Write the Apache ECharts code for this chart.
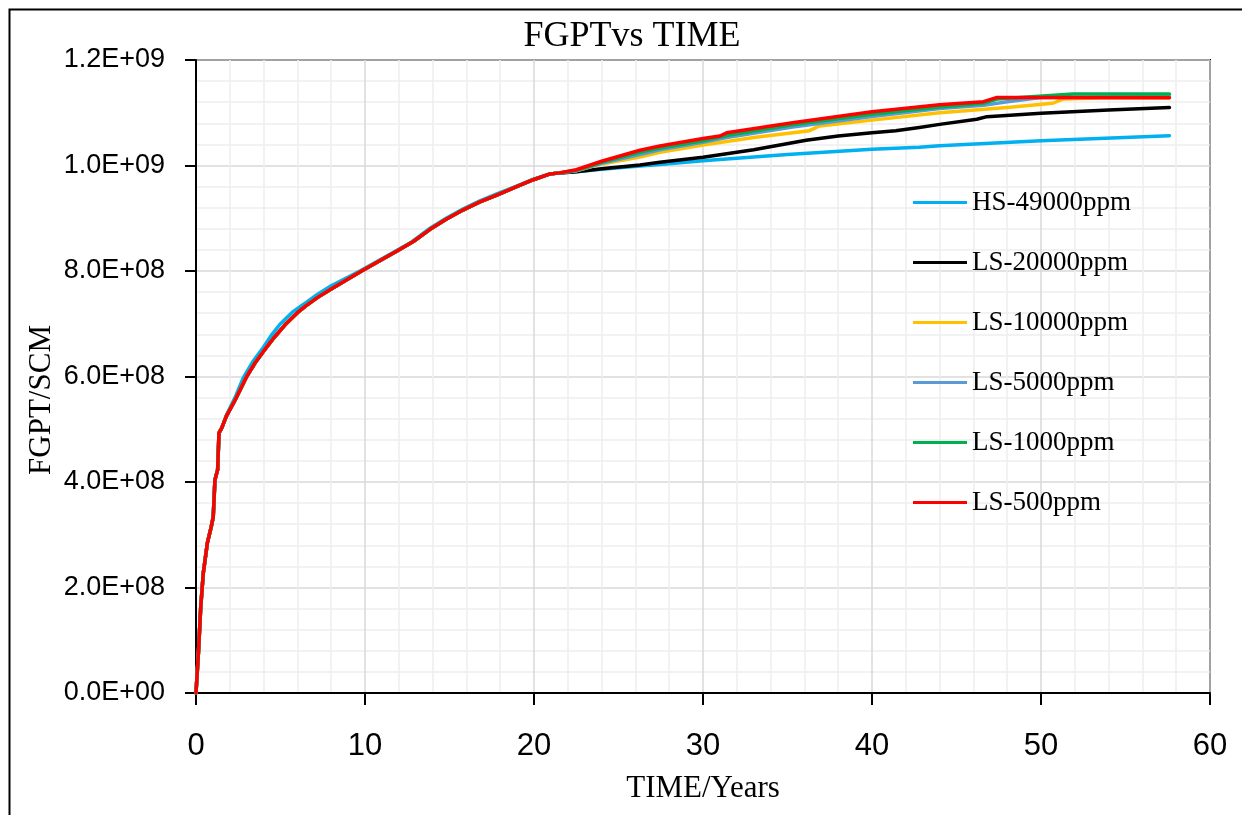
<!DOCTYPE html>
<html>
<head>
<meta charset="utf-8">
<script src="https://cdn.jsdelivr.net/npm/echarts@6/dist/echarts.min.js"></script>
<style>
  html, body { margin: 0; padding: 0; background: #fff; }
  #chart { width: 1242px; height: 815px; }
</style>
</head>
<body>
<div id="chart"></div>
<script>
// Cumulative gas production (FGPT, SCM) against time (years)

const seriesNames = ['HS-49000ppm', 'LS-20000ppm', 'LS-10000ppm', 'LS-5000ppm', 'LS-1000ppm', 'LS-500ppm'];
const seriesColors = ['#00B0F0', '#000000', '#FFC000', '#5B9BD5', '#00B050', '#FF0000'];

// Shared early history of the low-salinity cases (years / SCM)
const lsTrunkTime = [0, 0.04, 0.15, 0.28, 0.43, 0.67, 0.9, 1.02, 1.12, 1.28, 1.36, 1.52, 1.8, 2.31, 3.0, 3.5, 4.0, 4.6, 5.27, 6.0, 6.5, 7.2, 8.0, 9.0, 9.8, 10.9, 12.0, 12.86, 13.85, 14.8, 15.82, 16.8, 17.8, 18.9, 19.96, 20.95, 21.5];
const lsTrunkValue = [0, 0, 0.08e9, 0.163e9, 0.227e9, 0.284e9, 0.315e9, 0.334e9, 0.404e9, 0.423e9, 0.493e9, 0.502e9, 0.525e9, 0.555e9, 0.600e9, 0.626e9, 0.648e9, 0.673e9, 0.698e9, 0.721e9, 0.734e9, 0.750e9, 0.766e9, 0.785e9, 0.800e9, 0.820e9, 0.840e9, 0.856e9, 0.879e9, 0.898e9, 0.916e9, 0.931e9, 0.944e9, 0.959e9, 0.973e9, 0.984e9, 0.986e9];

// Early history of the high-salinity case
const hsTrunkTime = [0, 0.04, 0.15, 0.28, 0.43, 0.67, 0.9, 1.02, 1.12, 1.28, 1.36, 1.52, 1.8, 2.31, 2.8, 3.4, 4.0, 4.5, 4.97, 5.7, 6.5, 7.2, 8.0, 9.7, 11.0, 12.66, 13.85, 14.8, 15.82, 16.8, 17.8, 18.9, 19.96, 20.95, 21.5];
const hsTrunkValue = [0, 0, 0.08e9, 0.163e9, 0.227e9, 0.284e9, 0.315e9, 0.334e9, 0.404e9, 0.423e9, 0.493e9, 0.502e9, 0.527e9, 0.560e9, 0.598e9, 0.630e9, 0.656e9, 0.680e9, 0.699e9, 0.722e9, 0.740e9, 0.756e9, 0.772e9, 0.800e9, 0.823e9, 0.853e9, 0.881e9, 0.900e9, 0.918e9, 0.933e9, 0.946e9, 0.960e9, 0.974e9, 0.984e9, 0.986e9];

// Late-time behaviour of each case
const hsTime = [22.5, 24, 26.27, 27.45, 30, 35, 40, 42.8, 44, 50, 57.6];
const hsValue = [0.988e9, 0.993e9, 0.999e9, 1.002e9, 1.009e9, 1.021e9, 1.031e9, 1.0345e9, 1.0376e9, 1.047e9, 1.0566e9];

const ls20000Time = [22.5, 24, 26.27, 27.45, 30, 33, 36.1, 38, 40, 41.4, 42.8, 44, 46.2, 46.8, 50, 54, 57.6];
const ls20000Value = [0.988e9, 0.994e9, 1.001e9, 1.006e9, 1.0155e9, 1.030e9, 1.048e9, 1.056e9, 1.062e9, 1.066e9, 1.072e9, 1.078e9, 1.0876e9, 1.0926e9, 1.099e9, 1.105e9, 1.110e9];

const ls10000Time = [22.5, 24, 26.27, 27.45, 30, 33, 36.3, 36.9, 40, 44, 48, 50.7, 51.3, 53.7, 57.6];
const ls10000Value = [0.990e9, 1.003e9, 1.016e9, 1.025e9, 1.039e9, 1.053e9, 1.066e9, 1.075e9, 1.086e9, 1.100e9, 1.110e9, 1.118e9, 1.126e9, 1.1286e9, 1.1286e9];

const ls5000Time = [22.5, 24, 26.27, 27.45, 30, 31.4, 35.3, 40, 44, 46.6, 48, 50, 57.6];
const ls5000Value = [0.990e9, 1.004e9, 1.021e9, 1.030e9, 1.044e9, 1.053e9, 1.073e9, 1.093e9, 1.108e9, 1.114e9, 1.121e9, 1.129e9, 1.131e9];

const ls1000Time = [22.5, 24, 26.27, 27.45, 30, 31.4, 35.3, 40, 44, 46.6, 47.4, 51.9, 57.6];
const ls1000Value = [0.991e9, 1.006e9, 1.025e9, 1.033e9, 1.047e9, 1.057e9, 1.077e9, 1.097e9, 1.111e9, 1.118e9, 1.126e9, 1.1355e9, 1.1355e9];

const ls500Time = [22.5, 24, 26.27, 27.45, 30, 31, 31.4, 35.3, 40, 44, 46.6, 47.4, 57.6];
const ls500Value = [0.992e9, 1.008e9, 1.029e9, 1.037e9, 1.051e9, 1.056e9, 1.062e9, 1.081e9, 1.102e9, 1.115e9, 1.121e9, 1.129e9, 1.1286e9];

// Axis ticks
const xTicks = [0, 10, 20, 30, 40, 50, 60];
const yTicks = [0, 0.2e9, 0.4e9, 0.6e9, 0.8e9, 1.0e9, 1.2e9];

function pairs(ts, vs) {
  return ts.map((t, i) => [t, vs[i]]);
}

const tails = [
  [hsTime, hsValue],
  [ls20000Time, ls20000Value],
  [ls10000Time, ls10000Value],
  [ls5000Time, ls5000Value],
  [ls1000Time, ls1000Value],
  [ls500Time, ls500Value]
];

function sciLabel(v) {
  if (v === 0) return '0.0E+00';
  const e = Math.floor(Math.log10(v) + 1e-9);
  const m = v / Math.pow(10, e);
  return m.toFixed(1) + 'E+' + String(e).padStart(2, '0');
}

const series = seriesNames.map((name, i) => {
  const trunk = i === 0 ? pairs(hsTrunkTime, hsTrunkValue) : pairs(lsTrunkTime, lsTrunkValue);
  return {
    name: name,
    type: 'line',
    showSymbol: false,
    symbol: 'none',
    data: trunk.concat(pairs(tails[i][0], tails[i][1])),
    lineStyle: { color: seriesColors[i], width: 3.5, join: 'round', cap: 'round' },
    itemStyle: { color: seriesColors[i] },
    z: 2 + i
  };
});

const serif = 'Liberation Serif';
const sans = 'Liberation Sans';

const chart = echarts.init(document.getElementById('chart'), null, { renderer: 'canvas' });
chart.setOption({
  animation: false,
  backgroundColor: '#ffffff',
  title: {
    text: 'FGPTvs TIME',
    left: 627,
    top: 14,
    textAlign: 'center',
    textStyle: { fontFamily: serif, fontSize: 36, fontWeight: 'normal', color: '#000' }
  },
  grid: {
    left: 196, right: 32, top: 60, bottom: 122,
    show: true, borderColor: '#000', borderWidth: 2, backgroundColor: 'transparent'
  },
  legend: {
    orient: 'vertical',
    left: 908,
    top: 184,
    itemWidth: 54,
    itemHeight: 3,
    itemGap: 33,
    icon: 'rect',
    data: seriesNames,
    textStyle: { fontFamily: serif, fontSize: 27, color: '#000', lineHeight: 27 }
  },
  xAxis: {
    type: 'value',
    min: xTicks[0],
    max: xTicks[xTicks.length - 1],
    interval: xTicks[1] - xTicks[0],
    name: 'TIME/Years',
    nameLocation: 'middle',
    nameGap: 80,
    nameTextStyle: { fontFamily: serif, fontSize: 31, color: '#000' },
    axisLine: { lineStyle: { color: '#000', width: 2 } },
    axisTick: { show: true, length: 12, lineStyle: { color: '#000', width: 2 } },
    axisLabel: { fontFamily: sans, fontSize: 31, color: '#000', margin: 38 },
    splitLine: { show: true, lineStyle: { color: '#d9d9d9', width: 1.5 } },
    minorTick: { show: false, splitNumber: 5 },
    minorSplitLine: { show: true, lineStyle: { color: '#eeeeee', width: 1.5 } }
  },
  yAxis: {
    type: 'value',
    min: yTicks[0],
    max: yTicks[yTicks.length - 1],
    interval: yTicks[1] - yTicks[0],
    axisLine: { show: true, lineStyle: { color: '#000', width: 2 } },
    axisTick: { show: true, length: 11, lineStyle: { color: '#000', width: 2 } },
    axisLabel: { fontFamily: sans, fontSize: 27, color: '#000', margin: 31, formatter: sciLabel },
    splitLine: { show: true, lineStyle: { color: '#d9d9d9', width: 1.5 } },
    minorTick: { show: false, splitNumber: 5 },
    minorSplitLine: { show: true, lineStyle: { color: '#eeeeee', width: 1.5 } }
  },
  graphic: [
    {
      type: 'rect',
      left: 7, top: 7,
      shape: { width: 1260, height: 840 },
      style: { fill: 'none', stroke: '#000', lineWidth: 2 },
      silent: true
    },
    {
      type: 'text',
      x: 42, y: 400,
      rotation: Math.PI / 2,
      style: {
        text: 'FGPT/SCM',
        font: '31px "Liberation Serif"',
        fill: '#000',
        textAlign: 'center',
        textVerticalAlign: 'middle'
      },
      silent: true
    }
  ],
  series: series
});
</script>
</body>
</html>
